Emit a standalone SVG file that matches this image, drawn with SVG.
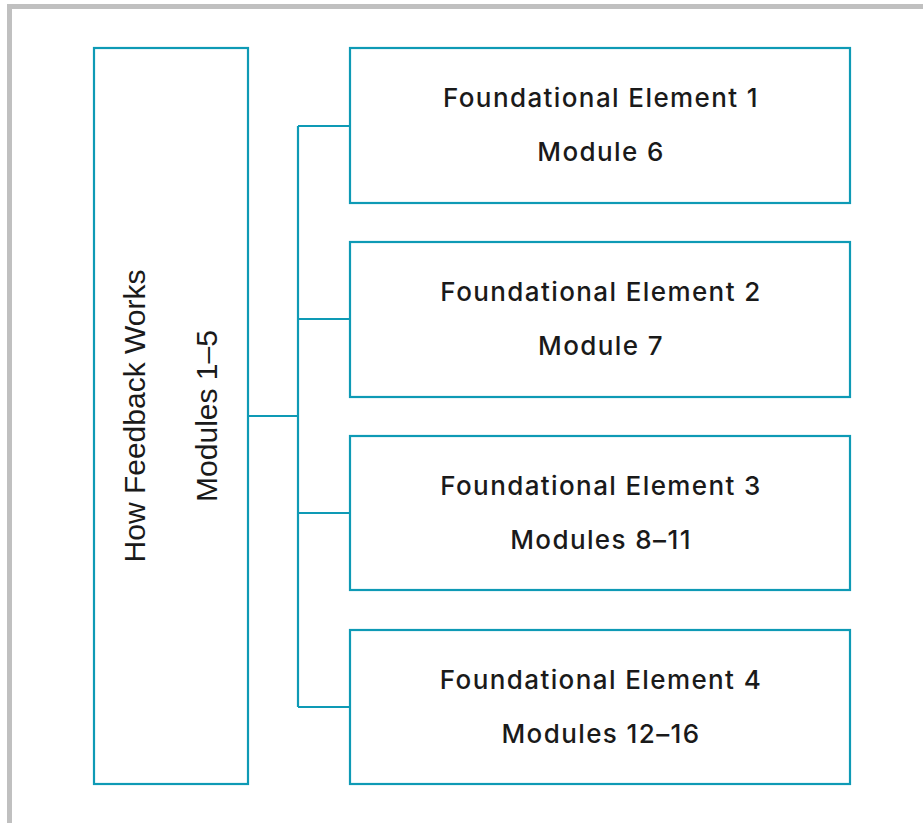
<svg xmlns="http://www.w3.org/2000/svg" width="923" height="823" viewBox="0 0 923 823">
<style>
.box{fill:#fff;stroke:#0e9ab5;stroke-width:2.2}
.con{fill:none;stroke:#0e9ab5;stroke-width:2.2}
.t{font-family:Inter,"Open Sans",sans-serif;font-size:26px;letter-spacing:1.4px;fill:#1a1a1a;text-anchor:middle;font-weight:500}
.v{font-family:"Liberation Sans",Arial,sans-serif;font-size:30px;fill:#1a1a1a;text-anchor:middle}
</style>
<rect width="923" height="823" fill="#fff"/>
<path d="M9.5,823 V6.5 H923" fill="none" stroke="#c0c0c0" stroke-width="5"/>
<g id="connectors">
<path class="con" d="M249,416 H298 M298,126 V707 M298,126 H350 M298,319 H350 M298,513 H350 M298,707 H350"/>
</g>
<g id="how-feedback">
<rect class="box" x="94" y="48" width="154" height="736"/>
<text class="v" transform="translate(145,416) rotate(-90)">How Feedback Works</text>
<text class="v" transform="translate(217,416) rotate(-90)">Modules 1–5</text>
</g>
<g id="fe1">
<rect class="box" x="350" y="48" width="500" height="155"/>
<text class="t" x="601" y="107">Foundational Element 1</text>
<text class="t" x="601" y="161">Module 6</text>
</g>
<g id="fe2">
<rect class="box" x="350" y="242" width="500" height="155"/>
<text class="t" x="601" y="301">Foundational Element 2</text>
<text class="t" x="601" y="355">Module 7</text>
</g>
<g id="fe3">
<rect class="box" x="350" y="436" width="500" height="154"/>
<text class="t" x="601" y="495">Foundational Element 3</text>
<text class="t" x="601" y="549">Modules 8–11</text>
</g>
<g id="fe4">
<rect class="box" x="350" y="630" width="500" height="154"/>
<text class="t" x="601" y="689">Foundational Element 4</text>
<text class="t" x="601" y="743">Modules 12–16</text>
</g>
</svg>
